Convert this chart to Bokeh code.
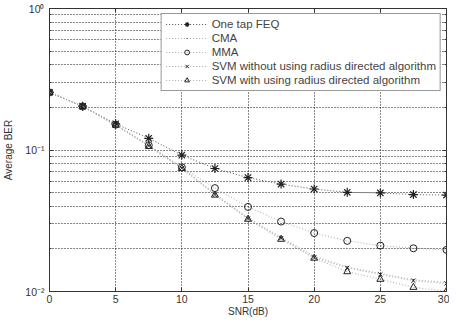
from bokeh.plotting import figure
from bokeh.models import (LogAxis, LinearAxis, Legend, LegendItem, FixedTicker,
                          CustomJSTickFormatter, Range1d)
from bokeh.embed import file_html
from bokeh.resources import INLINE

snr = [0, 2.5, 5, 7.5, 10, 12.5, 15, 17.5, 20, 22.5, 25, 27.5, 30]
feq = [0.256, 0.204, 0.153, 0.121, 0.092, 0.074, 0.0638, 0.0574, 0.053, 0.0502, 0.0497, 0.0484, 0.048]
cma = [0.255, 0.203, 0.151, 0.108, 0.0752, 0.0492, 0.0332, 0.0242, 0.0178, 0.0149, 0.0134, 0.0121, 0.0116]
mma = [0.255, 0.203, 0.151, 0.108, 0.0755, 0.0538, 0.0396, 0.0312, 0.0259, 0.0228, 0.0211, 0.0202, 0.0197]
svm_wo = [0.255, 0.203, 0.150, 0.107, 0.0745, 0.0484, 0.0328, 0.0238, 0.0174, 0.0147, 0.0132, 0.0119, 0.0114]
svm_w = [0.255, 0.203, 0.150, 0.106, 0.0740, 0.0480, 0.0324, 0.0234, 0.0172, 0.0138, 0.0122, 0.0107, 0.01005]

x_ticks = [0, 5, 10, 15, 20, 25, 30]
y_major = [0.01, 0.1, 1]
y_minor = [0.02, 0.03, 0.04, 0.05, 0.06, 0.07, 0.08, 0.09,
           0.2, 0.3, 0.4, 0.5, 0.6, 0.7, 0.8, 0.9]
labels = ["One tap FEQ", "CMA", "MMA",
          "SVM without using radius directed algorithm",
          "SVM with using radius directed algorithm"]

FONT = "Liberation Sans"

p = figure(width=449, height=319, y_axis_type="log", output_backend="svg",
           toolbar_location=None, x_range=Range1d(0, 30), y_range=Range1d(0.01, 1),
           min_border_left=49, min_border_right=3, min_border_top=8, min_border_bottom=27)
p.outline_line_color = "#333333"
p.outline_line_width = 1
p.background_fill_color = "white"

log_fmt = CustomJSTickFormatter(code="""
const e = Math.round(Math.log10(tick));
const sup = {'0':'\u2070','1':'\u00b9','2':'\u00b2','-':'\u207b'};
return '10' + String(e).split('').map(c => sup[c]).join('');
""")
blank_fmt = CustomJSTickFormatter(code="return '';")

# axes
p.xaxis.ticker = FixedTicker(ticks=x_ticks)
p.xaxis.axis_label = "SNR(dB)"
p.yaxis.axis_label = "Average BER"
p.yaxis.ticker = FixedTicker(ticks=y_major, minor_ticks=y_minor)
p.yaxis.formatter = log_fmt
for ax in [p.xaxis[0], p.yaxis[0]]:
    ax.major_label_text_font = FONT
    ax.major_label_text_font_size = "10.5px"
    ax.major_label_text_color = "#333333"
    ax.axis_label_text_font = FONT
    ax.axis_label_text_font_size = "10px"
    ax.axis_label_text_font_style = "normal"
    ax.axis_label_text_color = "#333333"
    ax.major_tick_in = 4
    ax.major_tick_out = 0
    ax.minor_tick_in = 2
    ax.minor_tick_out = 0
    ax.axis_line_color = "#333333"
    ax.major_tick_line_color = "#333333"
    ax.minor_tick_line_color = "#333333"
p.xaxis.major_label_standoff = 3
p.xaxis.axis_label_standoff = 0
p.yaxis.major_label_standoff = 5
p.yaxis.axis_label_standoff = 8

top = LinearAxis(ticker=FixedTicker(ticks=x_ticks), formatter=blank_fmt,
                 major_label_standoff=0, major_tick_in=4, major_tick_out=0,
                 minor_tick_line_color=None, axis_line_color="#333333",
                 major_tick_line_color="#333333")
right = LogAxis(ticker=FixedTicker(ticks=y_major, minor_ticks=y_minor), formatter=blank_fmt,
                major_label_standoff=0, major_tick_in=4, major_tick_out=0,
                minor_tick_in=2, minor_tick_out=0, axis_line_color="#333333",
                major_tick_line_color="#333333", minor_tick_line_color="#333333")
p.add_layout(top, "above")
p.add_layout(right, "right")

# grid
for g in (p.xgrid, p.ygrid):
    g.grid_line_color = "#111111"
    g.grid_line_dash = "1 2"
    g.grid_line_width = 1
p.ygrid.minor_grid_line_color = "#111111"
p.ygrid.minor_grid_line_dash = "1 2"

items = []
series = [
    (feq, "#555555", "asterisk", 9),
    (cma, "#aaaaaa", "dot", 6),
    (mma, "#aaaaaa", "circle", 7),
    (svm_wo, "#aaaaaa", "x", 6),
    (svm_w, "#aaaaaa", "triangle", 7),
]
for (ys, lc, mk, sz), lab in zip(series, labels):
    l = p.line(snr, ys, line_color=lc, line_dash="1 2", line_width=1)
    s = p.scatter(snr, ys, marker=mk, size=sz, line_color="#222222",
                  fill_color=None if mk in ("circle", "triangle") else "#222222",
                  line_width=1.2 if mk == "asterisk" else 1)
    items.append(LegendItem(label=lab, renderers=[l, s]))

legend = Legend(items=items, location="top_right", label_text_font=FONT,
                label_text_font_size="11.5px", label_height=12, glyph_height=12,
                glyph_width=42, spacing=2, padding=4, margin=5,
                border_line_color="#333333", border_line_width=1,
                label_standoff=4, background_fill_color="white", background_fill_alpha=1)
p.add_layout(legend, "center")

open("out.html", "w").write(file_html(p, INLINE))
